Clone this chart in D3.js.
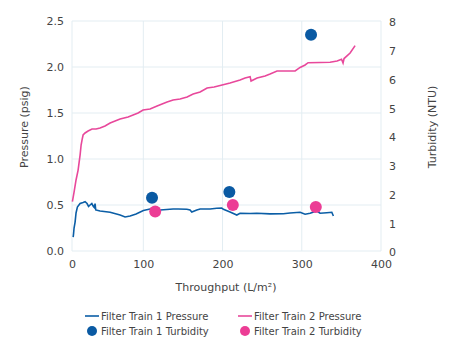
<!DOCTYPE html>
<html>
<head>
<meta charset="utf-8">
<script src="https://cdn.jsdelivr.net/npm/d3@7"></script>
<style>
    body { margin: 0; background: #fff; }
    text { font-family: "DejaVu Sans", Verdana, sans-serif; fill: #444; }
</style>
</head>
<body>
<div id="chart"></div>
<script>
// Filter Train 1 pressure (throughput L/m2, psig)
let train1X = [11.5, 12.0, 12.6, 13.9, 15.1, 16.8, 20.2, 24.0, 26.5, 29.0, 30.9, 32.8, 35.0, 37.0, 38.2, 39.1, 40.0,
    45.4, 58.1, 70.7, 77.0, 83.3, 90.9, 100.1, 108.5, 116.1, 121.2, 129.6, 137.6, 143.9, 154.9, 159.0, 161.2,
    167.5, 171.7, 184.3, 192.7, 199.0, 201.1, 209.5, 218.0, 222.1, 234.8, 243.2, 260.0, 276.8, 285.2, 297.9,
    304.2, 310.5, 318.9, 323.1, 331.6, 337.9, 339.9];
let train1P = [0.15, 0.19, 0.25, 0.315, 0.413, 0.478, 0.516, 0.527, 0.536, 0.516, 0.484, 0.5, 0.516, 0.484, 0.473, 0.516, 0.446,
    0.435, 0.421, 0.391, 0.37, 0.38, 0.402, 0.44, 0.457, 0.451, 0.446, 0.451, 0.457, 0.457, 0.453, 0.446, 0.424,
    0.446, 0.457, 0.457, 0.464, 0.467, 0.453, 0.424, 0.391, 0.41, 0.408, 0.41, 0.404, 0.405, 0.413, 0.421,
    0.399, 0.41, 0.435, 0.41, 0.416, 0.421, 0.38];

// Filter Train 2 pressure
let train2X = [10.5, 12.6, 15.1, 17.7, 18.9, 20.2, 21.5, 22.7, 24.0, 26.5, 30.3, 35.3, 40.4, 45.4, 51.7, 58.1, 64.4,
    70.7, 80.8, 87.1, 93.4, 99.7, 108.5, 117.4, 123.7, 130.0, 137.6, 146.4, 155.3, 162.9, 171.7, 180.5, 189.4,
    199.5, 209.5, 222.1, 228.4, 234.8, 236.0, 243.6, 253.7, 260.0, 268.8, 281.5, 291.6, 297.9, 304.2, 308.0,
    323.2, 335.7, 344.6, 350.2, 352.1, 353.4, 361.0, 367.3];
let train2P = [0.536, 0.641, 0.772, 0.88, 0.957, 1.043, 1.152, 1.207, 1.261, 1.283, 1.304, 1.326, 1.326, 1.337, 1.359, 1.391, 1.413,
    1.435, 1.457, 1.478, 1.5, 1.533, 1.543, 1.576, 1.598, 1.62, 1.641, 1.652, 1.674, 1.707, 1.728, 1.772, 1.783,
    1.804, 1.826, 1.859, 1.88, 1.895, 1.848, 1.88, 1.902, 1.924, 1.957, 1.957, 1.957, 1.995, 2.022, 2.047,
    2.049, 2.051, 2.065, 2.084, 2.043, 2.092, 2.152, 2.232];

// Turbidity samples (NTU)
let turb1X = [111, 208.6, 311.7];
let turb1Y = [1.85, 2.05, 7.52];
let turb2X = [115, 213, 317.7];
let turb2Y = [1.37, 1.6, 1.53];

let xTicks = [10, 100, 200, 300, 400];
let xTickLabels = ["0", "100", "200", "300", "400"];
let pTicks = [0, 0.5, 1, 1.5, 2, 2.5];
let tTicks = [0, 1, 2, 3, 4, 5, 6, 7, 8];

let legendNames = ["Filter Train 1 Pressure", "Filter Train 2 Pressure", "Filter Train 1 Turbidity", "Filter Train 2 Turbidity"];

let blue = "#0b5ea6";
let pink = "#e8489b";
let blueDot = "#0a5aa3";
let pinkDot = "#ec3d95";

let svg = d3.select("#chart").append("svg")
    .attr("width", 455)
    .attr("height", 354);

let plotLeft = 72, plotRight = 381, plotTop = 21, plotBottom = 251;

let x = d3.scaleLinear().domain([10, 400]).range([plotLeft, plotRight]);
let yP = d3.scaleLinear().domain([0, 2.5]).range([plotBottom, plotTop]);
let yT = d3.scaleLinear().domain([0, 8]).range([plotBottom, plotTop]);

// gridlines
svg.append("g").selectAll("line")
    .data(pTicks)
    .enter().append("line")
    .attr("x1", plotLeft).attr("x2", plotRight)
    .attr("y1", d => yP(d)).attr("y2", d => yP(d))
    .attr("stroke", "#e3edf2").attr("stroke-width", 1);

svg.append("g").selectAll("line")
    .data(xTicks)
    .enter().append("line")
    .attr("x1", d => x(d)).attr("x2", d => x(d))
    .attr("y1", plotTop).attr("y2", plotBottom)
    .attr("stroke", "#e3edf2").attr("stroke-width", 1);

// axes
let xAxis = d3.axisBottom(x).tickValues(xTicks).tickSize(0)
    .tickFormat((d, i) => xTickLabels[i]);
let gx = svg.append("g")
    .attr("transform", "translate(0," + plotBottom + ")")
    .call(xAxis);
gx.select(".domain").remove();
gx.selectAll("text").attr("dy", 0).attr("y", 17).style("font-size", "11px").style("fill", "#444");

let gyl = svg.append("g")
    .attr("transform", "translate(" + plotLeft + ",0)")
    .call(d3.axisLeft(yP).tickValues(pTicks).tickSize(0).tickFormat(d3.format(".1f")));
gyl.select(".domain").remove();
gyl.selectAll("text").attr("x", -8).style("font-size", "11px").style("fill", "#444");

let gyr = svg.append("g")
    .attr("transform", "translate(" + plotRight + ",0)")
    .call(d3.axisRight(yT).tickValues(tTicks).tickSize(0));
gyr.select(".domain").remove();
gyr.selectAll("text").attr("x", 8).attr("dy", "0.45em").style("font-size", "11px").style("fill", "#444");

// axis titles
svg.append("text")
    .attr("x", 226).attr("y", 291)
    .attr("text-anchor", "middle")
    .style("font-size", "11px")
    .text("Throughput (L/m²)");

svg.append("text")
    .attr("transform", "translate(28,127) rotate(-90)")
    .attr("text-anchor", "middle")
    .style("font-size", "11px")
    .text("Pressure (psig)");

svg.append("text")
    .attr("transform", "translate(436,127) rotate(-90)")
    .attr("text-anchor", "middle")
    .style("font-size", "11px")
    .text("Turbidity (NTU)");

// lines
let line = d3.line()
    .x(d => x(d[0]))
    .y(d => yP(d[1]));

svg.append("path")
    .datum(d3.zip(train1X, train1P))
    .attr("d", line)
    .attr("fill", "none")
    .attr("stroke", blue)
    .attr("stroke-width", 1.6);

svg.append("path")
    .datum(d3.zip(train2X, train2P))
    .attr("d", line)
    .attr("fill", "none")
    .attr("stroke", pink)
    .attr("stroke-width", 1.6);

// turbidity points
svg.append("g").selectAll("circle")
    .data(d3.zip(turb1X, turb1Y))
    .enter().append("circle")
    .attr("cx", d => x(d[0]))
    .attr("cy", d => yT(d[1]))
    .attr("r", 6)
    .attr("fill", blueDot);

svg.append("g").selectAll("circle")
    .data(d3.zip(turb2X, turb2Y))
    .enter().append("circle")
    .attr("cx", d => x(d[0]))
    .attr("cy", d => yT(d[1]))
    .attr("r", 6)
    .attr("fill", pinkDot);

// legend
let legend = svg.append("g");
let legendPos = [[85, 316], [238, 316], [85, 331], [238, 331]];
let legendColors = [blue, pink, blueDot, pinkDot];

legendNames.forEach((name, i) => {
    let p = legendPos[i];
    if (i < 2) {
        legend.append("line")
            .attr("x1", p[0]).attr("x2", p[0] + 14)
            .attr("y1", p[1]).attr("y2", p[1])
            .attr("stroke", legendColors[i]).attr("stroke-width", 1.6);
    } else {
        legend.append("circle")
            .attr("cx", p[0] + 7).attr("cy", p[1])
            .attr("r", 5)
            .attr("fill", legendColors[i]);
    }
    legend.append("text")
        .attr("x", p[0] + 16).attr("y", p[1])
        .attr("dy", "0.35em")
        .style("font-size", "10px")
        .text(name);
});
</script>
</body>
</html>
